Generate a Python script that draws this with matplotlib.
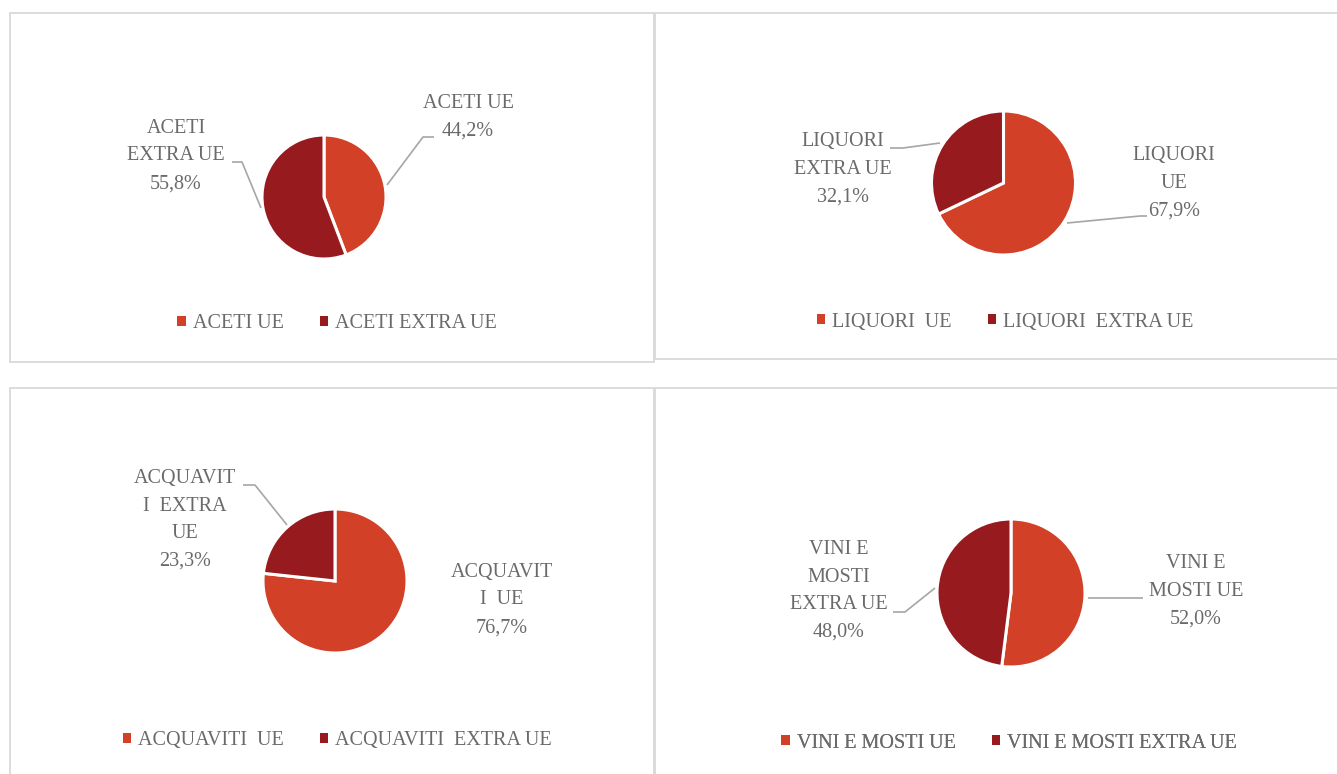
import matplotlib.pyplot as plt
from matplotlib.patches import Rectangle

W, H = 1337, 774

# data
products = ["ACETI", "LIQUORI", "ACQUAVITI", "VINI E MOSTI"]
ue_share = [44.2, 67.9, 76.7, 52.0]
extra_share = [55.8, 32.1, 23.3, 48.0]
legend_ue = ["ACETI UE", "LIQUORI  UE", "ACQUAVITI  UE", "VINI E MOSTI UE"]
legend_extra = ["ACETI EXTRA UE", "LIQUORI  EXTRA UE", "ACQUAVITI  EXTRA UE",
                "VINI E MOSTI EXTRA UE"]
# data label names as Excel wraps them
label_ue = ["ACETI UE", "LIQUORI\nUE", "ACQUAVIT\nI  UE", "VINI E\nMOSTI UE"]
label_extra = ["ACETI\nEXTRA UE", "LIQUORI\nEXTRA UE", "ACQUAVIT\nI  EXTRA\nUE",
               "VINI E\nMOSTI\nEXTRA UE"]

C_UE = "#D14027"
C_EXTRA = "#961A1E"
TXT = "#6A6A6A"
LEADER = "#A6A6A6"
BORDER = "#D9D9D9"
FONT = "Liberation Serif"
FS = 14.5

# layout in pixels (top-left origin)
frames = [(10, 13, 654, 362), (655, 13, 1345, 359),
          (10, 388, 654, 790), (655, 388, 1345, 790)]
pie_geo = [(324, 197, 62), (1003.5, 183, 72), (335, 581, 72), (1011, 593, 74)]
ue_text_pos = [(468, 117), (1174, 183), (502, 600), (1196, 591)]
extra_text_pos = [(176, 156), (843, 169), (185, 520), (839, 591)]
ue_leaders = [[(387, 185), (423, 137), (434, 137)],
              [(1067, 223), (1140, 216), (1147, 216)],
              None,
              [(1088, 598), (1143, 598)]]
extra_leaders = [[(232, 162), (242, 162), (261, 208)],
                 [(890, 148), (903, 148), (940, 143)],
                 [(243, 485), (255, 485), (287, 525)],
                 [(893, 612), (905, 612), (935, 588)]]
legend_pos = [(337, 324), (1005, 322), (337, 741), (1009, 743)]


def fy(py):
    return H - py


def pct(v):
    return f"{v:.1f}%".replace(".", ",")


fig = plt.figure(figsize=(W / 100, H / 100), dpi=100)
ax = fig.add_axes([0, 0, 1, 1])

for x0, y0, x1, y1 in frames:
    ax.add_patch(Rectangle((x0, fy(y1)), x1 - x0, y1 - y0, fill=False,
                           edgecolor=BORDER, linewidth=1.3))

for i in range(len(products)):
    cx, cy, r = pie_geo[i]
    wedges, _ = ax.pie([ue_share[i], extra_share[i]], colors=[C_UE, C_EXTRA],
                       startangle=90, counterclock=False, center=(cx, fy(cy)),
                       radius=r, wedgeprops=dict(edgecolor="white", linewidth=2.2))

    for name, val, pos in ((label_ue[i], ue_share[i], ue_text_pos[i]),
                           (label_extra[i], extra_share[i], extra_text_pos[i])):
        ax.text(pos[0], fy(pos[1]), name + "\n" + pct(val), ha="center", va="center",
                multialignment="center", fontsize=FS, color=TXT, family=FONT,
                linespacing=1.62)

    for pts in (ue_leaders[i], extra_leaders[i]):
        if pts:
            ax.plot([p[0] for p in pts], [fy(p[1]) for p in pts], color=LEADER,
                    lw=1.2, solid_capstyle="butt")

    lx, ly = legend_pos[i]
    leg = ax.legend(wedges, [legend_ue[i], legend_extra[i]], loc="center",
                    bbox_to_anchor=(lx, fy(ly)), bbox_transform=ax.transData,
                    ncol=2, frameon=False, handlelength=0.4, handleheight=0.4,
                    handletextpad=0.35, columnspacing=1.8,
                    prop=dict(family=FONT, size=FS))
    for t in leg.get_texts():
        t.set_color(TXT)
    for h in leg.legend_handles:
        h.set_linewidth(0)
    ax.add_artist(leg)

ax.set_xlim(0, W)
ax.set_ylim(0, H)
ax.set_aspect("auto")
ax.axis("off")

fig.savefig("out.png", dpi=100, facecolor="white")
